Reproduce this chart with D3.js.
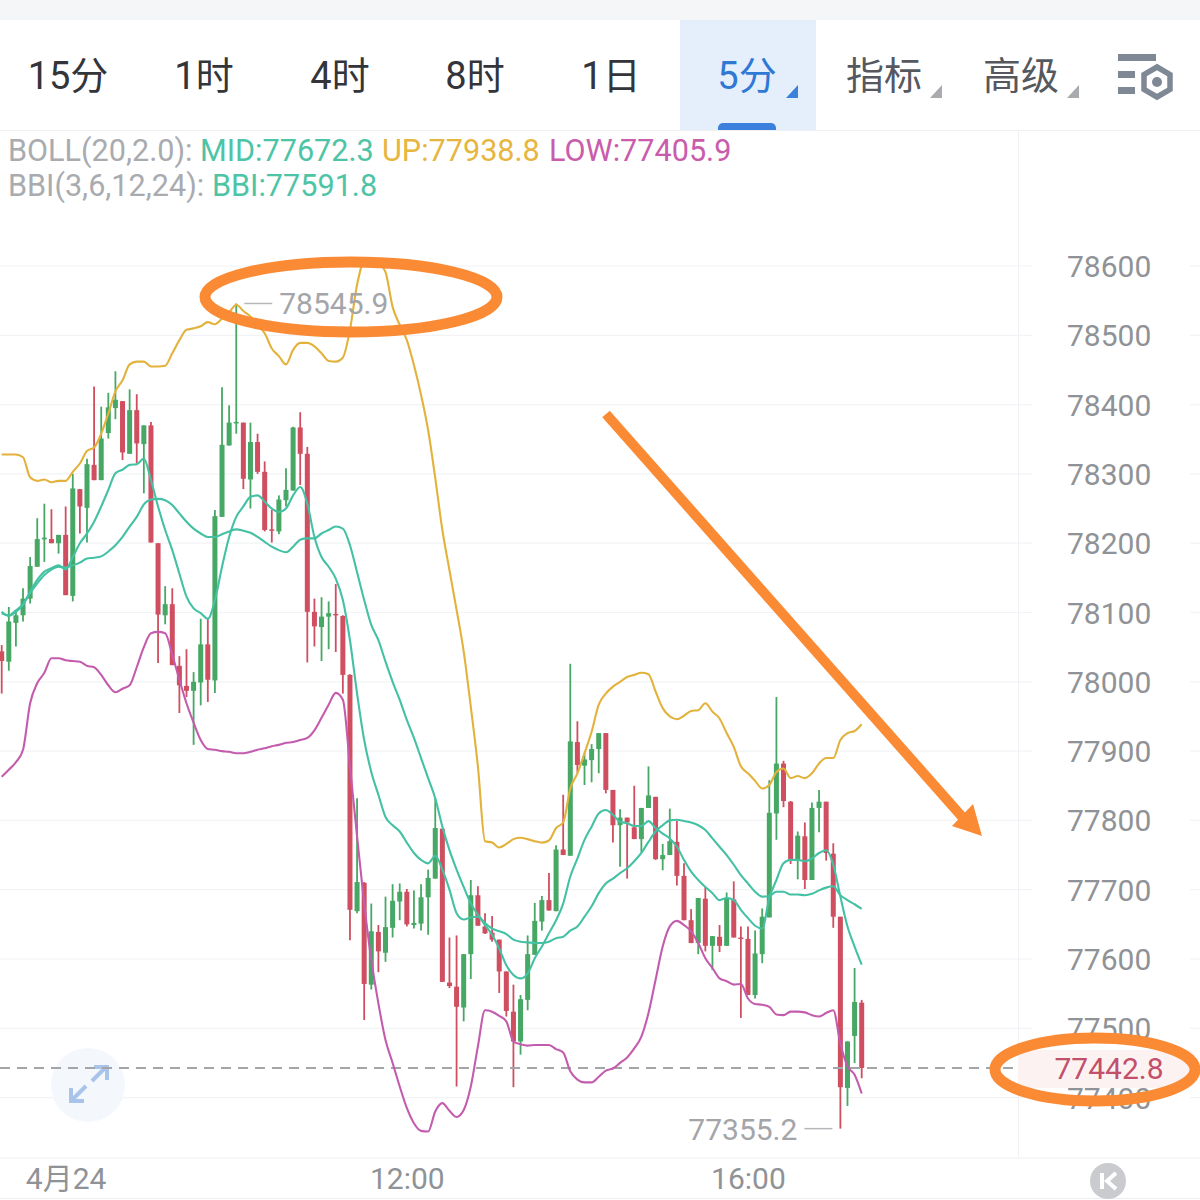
<!DOCTYPE html>
<html><head><meta charset="utf-8">
<script src="https://cdn.jsdelivr.net/npm/d3@7"></script>
<style>html,body{margin:0;padding:0;background:#fff}svg{display:block}text{font-family:Roboto,"Noto Sans CJK SC",sans-serif}</style>
</head><body><svg id="c" width="1200" height="1200"></svg>
<script>
const tabs=["15分","1时","4时","8时","1日","5分","指标","高级"];
const priceTicks=[78600,78500,78400,78300,78200,78100,78000,77900,77800,77700,77600,77500,77400];
const timeTickIdx=[9,57,105];
const timeLabels=["4月24","12:00","16:00"];
const lastPrice=77442.8, maxPrice=78545.9, minPrice=77355.2;
const open=[78044,78029,78085,78096,78120,78166,78205.5,78206,78200,78212,78124,78278,78251,78313,78291,78359,78395,78405,78329,78392,78343,78370,78200,78096,78112,78023,77994,77987,77999,78054,78002,78238,78341,78374,78374,78292,78346,78303,78220,78217,78262,78276,78367,78329,78101,78079,78094,78098,78095,78010,77669,77710,77563,77639,77609,77645,77683,77697,77649,77651,77689,77716,77788,77566,77560,77530,77607,77692,77647,77638,77628,77582,77524,77481,77541,77606,77654,77685,77669,77758,77749,77913,77879,77887,77903,77926,77844,77793,77804,77790,77773,77818,77834,77744,77750,77769,77720,77656,77623,77687,77619,77632,77619,77686,77631,77629,77548,77607,77660,77810,77882,77827,77744,77777,77714,77818,77827,77752,77661,77414,77489,77537];
const close=[78030,78087,78096,78120,78167,78206,78208,78200,78212,78125,78279,78253,78314,78291,78351,78396,78407,78331,78392,78344,78370,78201,78097,78112,78024,77995,77987,78000,78054,78003,78239,78342,78374,78375,78293,78346,78303,78219,78218,78263,78277,78367,78329,78101,78080,78094,78099,78096,78010,77671,77711,77564,77640,77611,77646,77684,77697,77650,77652,77689,77717,77789,77567,77561,77531,77607,77692,77648,77637,77628,77582,77525,77481,77542,77607,77655,77685,77670,77758,77750,77914,77880,77888,77903,77926,77844,77793,77804,77797,77773,77818,77836,77744,77750,77770,77720,77656,77623,77688,77619,77633,77619,77688,77631,77629,77548,77608,77661,77811,77882,77828,77744,77778,77714,77818,77827,77753,77661,77415,77481,77538,77442.8];
const high=[78053,78108,78101,78135,78180,78236,78257,78249,78212,78253,78300,78278,78322,78426,78397,78417,78448,78405,78422,78415,78370,78375,78200,78138,78135,78037,78047,78014,78091,78091,78248,78425,78399,78545.9,78374,78374,78358,78318,78248,78269,78308,78368,78389,78339,78120,78122,78116,78141,78096,78011,77832,77711,77680,77649,77690,77708,77709,77701,77699,77708,77729,77832,77788,77631,77634,77607,77714,77705,77666,77662,77628,77582,77563,77548,77634,77681,77691,77724,77764,77837,78026,77943,77897,77910,77926,77926,77844,77816,77804,77850,77818,77878,77834,77766,77817,77799,77738,77672,77688,77704,77633,77649,77696,77712,77647,77647,77641,77673,77858,77978,77886,77828,77784,77797,77826,77844,77827,77767,77661,77481,77587,77541];
const low=[77983,78016,78051,78087,78113,78166,78173,78200,78185,78125,78116,78214,78201,78291,78291,78351,78379,78320,78329,78315,78272,78201,78027,78083,78024,77955,77978,77909,77966,77971,77984,78238,78341,78358,78278,78250,78300,78217,78201,78213,78253,78276,78284,78028,78051,78030,78047,78043,77983,77627,77666,77512,77556,77581,77596,77631,77656,77647,77644,77641,77635,77716,77567,77558,77416,77510,77571,77648,77636,77625,77551,77517,77415,77462,77526,77606,77641,77670,77669,77750,77749,77869,77851,77855,77868,77839,77768,77733,77716,77773,77754,77818,77743,77728,77750,77706,77656,77623,77607,77611,77584,77610,77619,77631,77515,77548,77543,77594,77660,77772,77819,77737,77715,77701,77714,77783,77742,77645,77355.2,77388,77450,77428];
const bollUp=[78328,78328,78328,78324,78295,78290,78292,78288,78290,78290,78303,78315,78333,78338,78358,78387,78419,78435,78458,78462,78462,78455,78455,78456,78474,78493,78508,78510,78513,78519,78516,78524,78533,78544,78535,78527,78515,78503,78481,78470,78458,78479,78489,78489,78484,78474,78463,78462,78468,78508,78573,78606,78606,78604,78591,78541,78515,78493,78457,78414,78363,78294,78219,78161,78104,78044,77964,77878,77770,77768,77761,77766,77773,77775,77773,77770,77768,77771,77789,77797,77846,77868,77897,77928,77967,77983,77993,78000,78007,78010,78013,78011,77986,77962,77950,77946,77951,77958,77959,77969,77957,77947,77926,77906,77878,77868,77857,77846,77851,77870,77875,77861,77864,77861,77868,77882,77890,77890,77916,77926,77929,77938.8];
const bollLow=[77863,77873,77884,77902,77969,77998,78013,78034,78034,78031,78030,78029,78023,78021,78010,77995,77985,77990,77995,78021,78050,78070,78072,78070,78039,78003,77969,77941,77916,77903,77902,77900,77899,77897,77897,77899,77902,77904,77907,77909,77912,77913,77916,77919,77930,77948,77967,77984,77974,77878,77777,77680,77599,77536,77483,77450,77416,77385,77363,77352,77351,77380,77392,77381,77372,77382,77416,77474,77526,77524,77518,77510,77481,77477,77475,77476,77476,77476,77470,77465,77438,77426,77422,77422,77430,77439,77442,77450,77458,77471,77488,77522,77570,77618,77647,77655,77649,77640,77623,77601,77587,77572,77568,77563,77564,77543,77535,77534,77531,77520,77519,77524,77524,77523,77519,77517,77522,77526,77478,77445,77433,77405.9];
const bollMid=[78099,78096,78103,78112,78128,78142,78154,78162,78166,78165,78168,78172,78178,78179,78181,78188,78197,78209,78224,78238,78256,78263,78264,78262,78255,78243,78231,78221,78214,78209,78209,78213,78217,78220,78218,78215,78209,78202,78195,78190,78187,78195,78205,78207,78207,78214,78219,78224,78221,78197,78158,78118,78082,78060,78029,78000,77974,77945,77919,77890,77861,77832,77791,77757,77729,77704,77680,77664,77652,77644,77640,77636,77628,77625,77624,77623,77623,77625,77630,77632,77641,77647,77661,77676,77695,77709,77716,77724,77731,77741,77753,77769,77784,77793,77800,77801,77799,77797,77793,77786,77774,77762,77750,77736,77721,77709,77697,77690,77691,77697,77697,77693,77693,77692,77694,77699,77703,77705,77692,77685,77679,77672.3];
const bbi=[78101,78095,78101,78111,78130,78147,78159,78164,78168,78162,78180,78200,78214,78231,78253,78277,78301,78306,78313,78314,78322,78291,78253,78219,78190,78156,78123,78106,78099,78091,78118,78166,78209,78238,78253,78267,78269,78260,78250,78245,78250,78269,78281,78257,78209,78180,78166,78149,78118,78060,77983,77916,77870,77837,77805,77793,77784,77768,77753,77743,77738,77749,77729,77700,77666,77657,77660,77661,77649,77635,77615,77591,77577,77572,77579,77601,77618,77637,77656,77680,77719,77745,77772,77791,77810,77815,77808,77798,77796,77792,77792,77799,77789,77781,77774,77762,77743,77726,77714,77704,77695,77685,77688,77685,77671,77659,77648,77644,77688,77714,77738,77743,77743,77741,77745,77753,77757,77736,77690,77647,77618,77591.8];

const svg=d3.select("#c");
const x=d3.scaleLinear().domain([0,open.length-1]).range([1.7,861.7]);
const y=d3.scaleLinear().domain([78600,77400]).range([266,1097.6]);
const GRID="#f1f3f6", RED="#cf4e60", GREEN="#47a764", GRAY="#a6a8ac";

// top chrome
svg.append("rect").attr("width",1200).attr("height",20).attr("fill","#f5f6f8");
svg.append("rect").attr("x",680).attr("y",20).attr("width",136).attr("height",110).attr("fill","#e5effb");
svg.append("path").attr("d","M718 130V128a5 5 0 0 1 5-5H771a5 5 0 0 1 5 5V130Z").attr("fill","#3b80dc");
svg.append("line").attr("x1",0).attr("x2",1200).attr("y1",130.5).attr("y2",130.5).attr("stroke","#eef0f3");
const tabX=[68,204,340,475,611,747,884,1021];
svg.selectAll("text.tab").data(tabs).join("text").attr("class","tab")
 .attr("x",(d,i)=>tabX[i]).attr("y",89).attr("text-anchor","middle").attr("font-size",38)
 .attr("fill",(d,i)=>i==5?"#2f78d4":i>5?"#55585e":"#33353a").text(d=>d);
[[786,98,"#3b80dc"],[930,98,"#a9abae"],[1067,98,"#a9abae"]].forEach(([a,b,c])=>
 svg.append("path").attr("d",`M${a} ${b}h12v-13Z`).attr("fill",c));
const ic=svg.append("g").attr("fill","#7f8895");
ic.append("rect").attr("x",1118).attr("y",54).attr("width",38).attr("height",7);
ic.append("rect").attr("x",1118).attr("y",71).attr("width",17).attr("height",7);
ic.append("rect").attr("x",1118).attr("y",87).attr("width",17).attr("height",7);
ic.append("path").attr("d","M1157 67l13 7.5v15l-13 7.5l-13-7.5v-15Z").attr("fill","none").attr("stroke","#7f8895").attr("stroke-width",5.5);
ic.append("circle").attr("cx",1157).attr("cy",82).attr("r",5);

// frame lines
svg.append("line").attr("x1",1018.5).attr("x2",1018.5).attr("y1",130).attr("y2",1158).attr("stroke","#f0f1f4");
svg.append("line").attr("x1",0).attr("x2",1200).attr("y1",1158).attr("y2",1158).attr("stroke","#f0f1f4");
svg.append("line").attr("x1",0).attr("x2",1200).attr("y1",1198.5).attr("y2",1198.5).attr("stroke","#eceef1");

// grid
[[0,1032],[1190,1200]].forEach(([a,b])=>{
 svg.append("g").selectAll("line").data(priceTicks).join("line")
  .attr("x1",a).attr("x2",b).attr("y1",d=>y(d)).attr("y2",d=>y(d)).attr("stroke",GRID).attr("stroke-width",1.2);
});

// y axis
const yAxis=d3.axisRight(y).tickValues(priceTicks).tickSize(0).tickPadding(0).tickFormat(d3.format("d"));
const yg=svg.append("g").attr("transform","translate(1067,0)").call(yAxis);
yg.select(".domain").remove();
yg.selectAll("text").attr("font-size",30).attr("fill","#8f9296").style("font-family",'Roboto,sans-serif').attr("dy","0.35em");

// x axis
const xAxis=d3.axisBottom(x).tickValues(timeTickIdx).tickSize(0).tickPadding(0).tickFormat((d,i)=>timeLabels[i]);
const xg=svg.append("g").attr("transform","translate(0,1188.5)").call(xAxis);
xg.select(".domain").remove();
xg.selectAll("text").attr("font-size",30).attr("fill","#8f9296").attr("dy",0).attr("y",0);

// legend
const leg=svg.append("g").attr("font-size",30.6);
const addRow=(yy,parts)=>{const t=leg.append("text").attr("y",yy);
 parts.forEach(([s,c,px])=>t.append("tspan").attr("x",px).attr("fill",c).text(s));};
addRow(160.5,[["BOLL(20,2.0):","#a9abaf",8],["MID:77672.3","#4dc4a6",200],["UP:77938.8","#e6b63f",382],["LOW:77405.9","#c95cab",549]]);
addRow(195.5,[["BBI(3,6,12,24):","#a9abaf",8],["BBI:77591.8","#4dc4a6",212]]);

// expand button
svg.append("circle").attr("cx",88).attr("cy",1085).attr("r",37).attr("fill","#f4f7fc");
svg.append("g").attr("stroke","#a9c4ea").attr("stroke-width",4).attr("fill","none")
 .selectAll("path").data(["M92 1081L107 1066M94 1067H107V1080","M71 1101L86 1086M71 1088V1101H84"]).join("path").attr("d",d=>d);

// candles
const g=svg.append("g");
const idx=d3.range(open.length);
const col=i=>close[i]>=open[i]?GREEN:RED;
g.selectAll("line.wick").data(idx).join("line").attr("class","wick")
 .attr("x1",i=>x(i)).attr("x2",i=>x(i)).attr("y1",i=>y(high[i])).attr("y2",i=>y(low[i]))
 .attr("stroke",col).attr("stroke-width",1.8);
g.selectAll("rect.body").data(idx).join("rect").attr("class","body")
 .attr("x",i=>x(i)-2.5).attr("width",5)
 .attr("y",i=>y(Math.max(open[i],close[i])))
 .attr("height",i=>Math.max(1.5,Math.abs(y(open[i])-y(close[i]))))
 .attr("fill",col);

// dashed last price
svg.append("line").attr("x1",0).attr("x2",1014).attr("y1",y(lastPrice)).attr("y2",y(lastPrice))
 .attr("stroke","#a3a5a9").attr("stroke-width",2).attr("stroke-dasharray","10 7");

// indicator lines
const ln=d3.line().x((d,i)=>x(i)).y(d=>y(d)).curve(d3.curveMonotoneX);
[[bollUp,"#e3b23c"],[bollLow,"#c45cae"],[bollMid,"#44c1a4"],[bbi,"#44c1a4"]].forEach(([a,c])=>
 svg.append("path").datum(a).attr("d",ln).attr("fill","none").attr("stroke",c).attr("stroke-width",2.1));

// max / min labels
const iMax=high.indexOf(maxPrice), iMin=low.indexOf(minPrice);
svg.append("line").attr("x1",x(iMax)+8).attr("x2",x(iMax)+36).attr("y1",y(maxPrice)).attr("y2",y(maxPrice)).attr("stroke","#b5b7ba").attr("stroke-width",1.5);
svg.append("text").attr("x",x(iMax)+43).attr("y",y(maxPrice)+11).attr("font-size",30).attr("fill","#a3a5a9").text(d3.format(".1f")(maxPrice));
svg.append("line").attr("x1",x(iMin)-36).attr("x2",x(iMin)-8).attr("y1",y(minPrice)).attr("y2",y(minPrice)).attr("stroke","#b5b7ba").attr("stroke-width",1.5);
svg.append("text").attr("x",x(iMin)-43).attr("y",y(minPrice)+11).attr("text-anchor","end").attr("font-size",30).attr("fill","#a3a5a9").text(d3.format(".1f")(minPrice));

// last price tag
svg.append("rect").attr("x",1018).attr("y",1050).attr("width",176).attr("height",38).attr("rx",6).attr("fill","#fdf2f2");
svg.append("text").attr("x",1109).attr("y",y(lastPrice)+11).attr("text-anchor","middle").attr("font-size",30).attr("fill","#c2506a").text(d3.format(".1f")(lastPrice));

// K button
svg.append("circle").attr("cx",1108).attr("cy",1181).attr("r",18).attr("fill","#c9cbce");
svg.append("path").attr("d","M1102 1173V1189M1116 1173L1107 1181L1116 1189").attr("fill","none").attr("stroke","#fff").attr("stroke-width",4);

// hand annotations
const OR="#fb8a34";
svg.append("ellipse").attr("cx",351).attr("cy",297).attr("rx",146).attr("ry",35).attr("fill","none").attr("stroke",OR).attr("stroke-width",11);
svg.append("ellipse").attr("cx",1095).attr("cy",1069.5).attr("rx",100).attr("ry",31.5).attr("fill","none").attr("stroke",OR).attr("stroke-width",11);
svg.append("line").attr("x1",606).attr("y1",414).attr("x2",972).attr("y2",828).attr("stroke",OR).attr("stroke-width",10);
svg.append("path").attr("d","M982 836L952 826L973 804Z").attr("fill",OR);
</script></body></html>
